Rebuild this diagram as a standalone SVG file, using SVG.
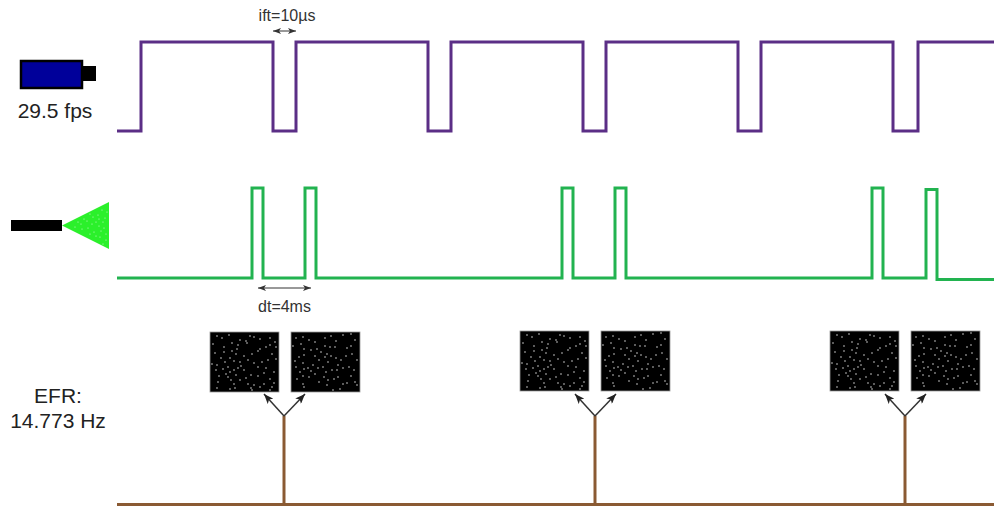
<svg xmlns="http://www.w3.org/2000/svg" width="994" height="508" viewBox="0 0 994 508">
<style>
.wave{fill:none;stroke-linejoin:miter}
.t{font-family:"Liberation Sans",Arial,sans-serif;fill:#222}
.big{font-size:21px}
.small{font-size:16px;fill:#333}
.dim{stroke:#333;stroke-width:1;fill:none;marker-start:url(#smallS);marker-end:url(#smallE)}
.fork{stroke:#333;stroke-width:1.5;fill:none;marker-end:url(#fork)}
.stem{stroke:#8a5a33;stroke-width:3;fill:none}
.dots{fill:none;stroke:#d8d8d8;stroke-width:1.6;stroke-linecap:round}
.bg{fill:#000;stroke:#999;stroke-width:.8}
</style>
<defs>
<marker id="smallE" viewBox="0 0 8 6" refX="8" refY="3" markerWidth="8" markerHeight="6" markerUnits="userSpaceOnUse" orient="auto"><path d="M0 0L8 3L0 6L2 3Z" fill="#333"/></marker>
<marker id="smallS" viewBox="0 0 8 6" refX="0" refY="3" markerWidth="8" markerHeight="6" markerUnits="userSpaceOnUse" orient="auto"><path d="M8 0L0 3L8 6L6 3Z" fill="#333"/></marker>
<marker id="fork" viewBox="0 0 10 8" refX="10" refY="4" markerWidth="10" markerHeight="8" markerUnits="userSpaceOnUse" orient="auto"><path d="M0 0L10 4L0 8L2.500 4Z" fill="#222"/></marker>
<g id="imgA">
<rect class="bg" x="0" y="0" width="69" height="60"/>
<path class="dots" d="M7 4h0M12 6h0M19 3h0M40 4h0M44 5h0M50 7h0M60 6h0M65 10h0M3 12h0M14 15h0M28 13h0M37 11h0M36 9h0M27 17h0M50 17h0M56 15h0M60 13h0M48 19h0M66 15h0M5 21h0M22 19h0M2 32h0M11 26h0M15 30h0M20 26h0M24 29h0M18 35h0M13 37h0M26 22h0M30 30h0M31 34h0M28 36h0M24 38h0M20 40h0M16 42h0M34 38h0M38 28h0M44 31h0M48 35h0M52 30h0M58 28h0M66 27h0M62 22h0M7 33h0M6 38h0M18 45h0M21 48h0M26 43h0M30 48h0M36 46h0M41 43h0M48 44h0M54 41h0M60 47h0M64 51h0M8 50h0M24 52h0M38 52h0M44 53h0M50 55h0M54 52h0M62 55h0M60 58h0M20 57h0M25 56h0M41 56h0M42 58h0M7 56h0M42 22h0M34 24h0M14 20h0M56 36h0M64 40h0M30 8h0M22 11h0M9 44h0"/>
</g>
<g id="imgB">
<rect class="bg" x="0" y="0" width="69" height="60"/>
<path class="dots" d="M5 6h0M12 5h0M18 8h0M34 6h0M40 4h0M45 9h0M52 3h0M60 2h0M2 14h0M10 12h0M13 17h0M24 10h0M34 14h0M44 15h0M56 16h0M60 14h0M64 8h0M8 25h0M13 23h0M20 18h0M26 17h0M30 20h0M34 25h0M37 30h0M32 35h0M27 36h0M22 33h0M36 22h0M40 24h0M45 26h0M50 28h0M47 33h0M55 24h0M61 22h0M66 28h0M4 29h0M5 35h0M12 31h0M13 37h0M17 36h0M20 39h0M24 42h0M35 40h0M41 38h0M46 38h0M52 36h0M58 35h0M63 38h0M6 47h0M12 44h0M18 45h0M28 50h0M33 45h0M37 48h0M47 45h0M52 52h0M56 51h0M64 50h0M66 53h0M12 52h0M13 55h0M36 53h0M42 58h0M49 57h0M39 15h0M28 28h0M9 40h0M60 44h0M24 24h0M43 47h0"/>
</g>
</defs>

<g id="connectors">
<path id="wave-camera" class="wave" stroke="#5b2e86" stroke-width="3" d="M117 131H141V42H273V131H296V42H428V131H451V42H583V131H606V42H738V131H761V42H893V131H918V42H994"/>
<path id="wave-laser" class="wave" stroke="#22b350" stroke-width="3" d="M117 278H252V188H263V278H305V188H316V278H562V188H573V278H615V188H626V278H872V188H883V278H926V189.500H937V279.500H994"/>
<path class="dim" d="M273 31H296"/>
<path class="dim" d="M258 288H311"/>
<path class="stem" d="M117 504.500H994"/>
<path class="stem" d="M284 416V504"/>
<path class="stem" d="M595 416V504"/>
<path class="stem" d="M905 416V504"/>
<path class="fork" d="M284 416L264 394"/>
<path class="fork" d="M284 416L305 394"/>
<path class="fork" d="M595 416L575 394"/>
<path class="fork" d="M595 416L616 394"/>
<path class="fork" d="M905 416L885 394"/>
<path class="fork" d="M905 416L926 394"/>
</g>

<g id="camera">
<rect x="21" y="61" width="61" height="27" fill="#00009a" stroke="#000" stroke-width="2.500"/>
<rect x="82" y="66" width="14" height="15" fill="#000"/>
<text class="t big" x="55" y="118" text-anchor="middle">29.5 fps</text>
</g>
<g id="laser">
<rect x="11" y="220" width="51" height="11" fill="#000"/>
<path d="M62 225.500L109 202V249Z" fill="#2bf02b"/>
<path d="M78 222h0M84 219h0M90 214h0M96 222h0M102 210h0M105 218h0M88 228h0M94 232h0M100 237h0M104 228h0M98 215h0M82 229h0M106 240h0M92 224h0M75 227h0M81 224h0M87 221h0M93 217h0M99 226h0M103 222h0M107 212h0M101 231h0M96 236h0M90 234h0M106 234h0M103 244h0M99 219h0" fill="none" stroke="#c8fac8" stroke-width="1.200" stroke-linecap="round"/>
</g>
<g id="label-ift"><text class="t small" x="287" y="21" text-anchor="middle">ift=10µs</text></g>
<g id="label-dt"><text class="t small" x="284.500" y="312" text-anchor="middle">dt=4ms</text></g>
<g id="label-efr">
<text class="t big" x="58" y="403" text-anchor="middle">EFR:</text>
<text class="t big" x="58" y="428" text-anchor="middle">14.773 Hz</text>
</g>
<g id="frames-1"><use href="#imgA" x="210" y="332"/><use href="#imgB" x="291" y="332"/></g>
<g id="frames-2"><use href="#imgA" x="520" y="331"/><use href="#imgB" x="601" y="331"/></g>
<g id="frames-3"><use href="#imgA" x="830" y="331"/><use href="#imgB" x="911" y="331"/></g>
</svg>
